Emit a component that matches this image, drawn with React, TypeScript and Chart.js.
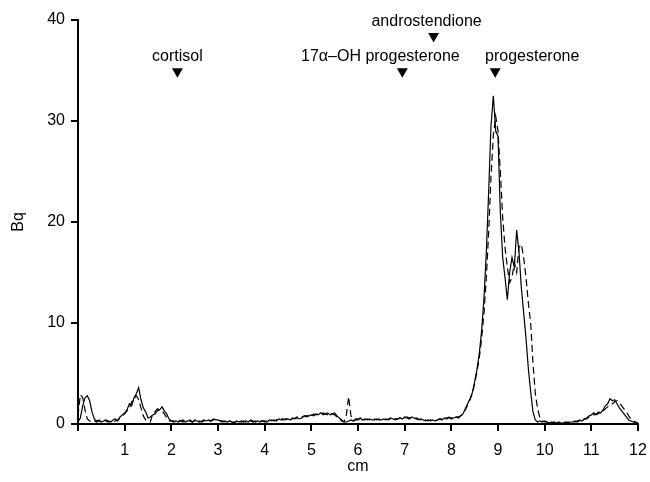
import React, { useEffect, useRef } from "react";
import { Chart, registerables } from "chart.js";

Chart.register(...registerables);

// sampling grid: 0 .. 12 cm, step 0.05 cm
const cmStart = 0;
const cmStep = 0.05;

// solid trace (Bq)
const solidBq = [
  0.2, 0.6, 1.8, 2.6, 2.8, 2.3, 1.2, 0.5, 0.3, 0.4, 0.2, 0.3, 0.4, 0.3, 0.2, 0.4, 0.5, 0.3, 0.7, 0.9,
  1.1, 1.4, 2.0, 1.8, 2.6, 3.0, 3.6, 2.4, 1.6, 1.2, 0.6, 0.7, 0.9, 1.0, 1.3, 1.4, 1.7, 1.3, 1.0, 0.5,
  0.3, 0.2, 0.3, 0.2, 0.3, 0.4, 0.2, 0.3, 0.3, 0.2, 0.4, 0.3, 0.2, 0.3, 0.4, 0.3, 0.4, 0.3, 0.5, 0.4,
  0.4, 0.3, 0.2, 0.3, 0.2, 0.3, 0.2, 0.1, 0.3, 0.2, 0.3, 0.2, 0.3, 0.2, 0.4, 0.3, 0.2, 0.3, 0.2, 0.3,
  0.3, 0.2, 0.4, 0.3, 0.4, 0.3, 0.5, 0.4, 0.4, 0.5, 0.5, 0.4, 0.6, 0.5, 0.6, 0.5, 0.6, 0.8, 0.7, 0.8,
  0.9, 0.8, 1.0, 0.9, 1.1, 0.9, 1.0, 1.1, 0.9, 1.0, 1.1, 0.8, 0.6, 0.4, 0.2, 0.2, 0.3, 0.4, 0.3, 0.5,
  0.5, 0.6, 0.4, 0.5, 0.4, 0.5, 0.4, 0.4, 0.5, 0.4, 0.4, 0.5, 0.4, 0.5, 0.6, 0.5, 0.4, 0.5, 0.6, 0.5,
  0.7, 0.6, 0.5, 0.7, 0.6, 0.5, 0.4, 0.5, 0.4, 0.3, 0.4, 0.3, 0.4, 0.3, 0.4, 0.5, 0.4, 0.6, 0.5, 0.7,
  0.5, 0.6, 0.7, 0.6, 0.8, 1.0, 1.5, 2.0, 2.5, 3.1, 4.2, 5.4, 7.0, 9.3, 12.5, 17.0, 23.0, 29.5, 32.5, 29.0,
  28.5, 21.0, 16.5, 14.5, 12.3, 15.0, 16.5, 15.5, 19.2, 17.0, 13.5, 11.0, 8.5, 5.5, 3.2, 1.2, 0.4, 0.2, 0.3, 0.2,
  0.3, 0.2, 0.1, 0.2, 0.1, 0.1, 0.2, 0.1, 0.1, 0.2, 0.1, 0.2, 0.2, 0.3, 0.2, 0.4, 0.3, 0.5, 0.6, 0.8,
  0.9, 1.1, 0.9, 1.2, 1.1, 1.4, 1.8, 2.0, 2.5, 2.3, 2.4, 2.0, 1.6, 1.3, 1.0, 0.7, 0.4, 0.3, 0.2, 0.1,
  0.0,
];

// dashed trace (Bq)
const dashedBq = [
  0.8, 2.9, 2.6, 1.4, 0.5, 0.3, 0.2, 0.3, 0.2, 0.3, 0.2, 0.4, 0.3, 0.2, 0.3, 0.2, 0.3, 0.4, 0.6, 0.8,
  1.0, 1.3, 1.5, 2.2, 2.5, 2.8, 2.4, 1.6, 0.8, 0.4, 0.3, 0.2, 1.0, 1.2, 1.5, 1.4, 1.3, 1.0, 0.6, 0.3,
  0.3, 0.3, 0.2, 0.4, 0.3, 0.2, 0.3, 0.3, 0.4, 0.2, 0.3, 0.4, 0.3, 0.2, 0.3, 0.4, 0.3, 0.3, 0.4, 0.5,
  0.4, 0.3, 0.3, 0.2, 0.2, 0.3, 0.2, 0.2, 0.3, 0.3, 0.2, 0.3, 0.2, 0.3, 0.3, 0.2, 0.3, 0.2, 0.3, 0.3,
  0.2, 0.3, 0.3, 0.4, 0.3, 0.4, 0.4, 0.5, 0.5, 0.4, 0.5, 0.6, 0.5, 0.6, 0.7, 0.6, 0.7, 0.8, 0.8, 0.9,
  0.8, 1.0, 0.9, 1.0, 1.0, 1.1, 1.0, 0.9, 1.1, 1.0, 0.9, 0.7, 0.5, 0.3, 0.2, 0.9, 2.7, 0.8, 0.3, 0.4,
  0.4, 0.5, 0.5, 0.4, 0.5, 0.4, 0.5, 0.5, 0.4, 0.5, 0.4, 0.4, 0.5, 0.4, 0.5, 0.6, 0.5, 0.5, 0.6, 0.5,
  0.6, 0.7, 0.6, 0.6, 0.5, 0.6, 0.5, 0.4, 0.5, 0.4, 0.3, 0.4, 0.4, 0.3, 0.4, 0.5, 0.5, 0.5, 0.6, 0.6,
  0.6, 0.6, 0.7, 0.7, 0.8, 1.0, 1.4, 1.9, 2.4, 3.0, 4.0, 5.2, 6.6, 8.5, 11.0, 14.5, 19.0, 24.5, 28.5, 30.5,
  29.0, 25.0, 20.5, 17.5, 15.5, 14.0, 14.5, 16.0, 15.0, 17.5, 17.8, 16.5, 14.5, 12.0, 10.0, 6.0, 3.0, 1.5, 0.6, 0.3,
  0.2, 0.2, 0.1, 0.1, 0.2, 0.1, 0.1, 0.2, 0.1, 0.1, 0.2, 0.1, 0.2, 0.2, 0.3, 0.3, 0.4, 0.5, 0.5, 0.7,
  0.8, 0.9, 1.0, 1.0, 1.2, 1.3, 1.5, 1.7, 1.9, 2.0, 2.2, 2.3, 2.1, 1.8, 1.5, 1.2, 0.8, 0.5, 0.3, 0.2,
  0.1,
];

// reference markers (standards)
const markerLabels = ["cortisol", "17\u03b1\u2013OH progesterone", "androstendione", "progesterone"];
const markerCm = [2.13, 6.95, 7.62, 8.94];
const markerBq = [34.9, 34.9, 38.4, 34.9];

// axis ticks
const xTicks = [0, 1, 2, 3, 4, 5, 6, 7, 8, 9, 10, 11, 12];
const yTicks = [0, 10, 20, 30, 40];

const FONT = "'Liberation Sans', Arial, Helvetica, sans-serif";
const labelDx = [0, -22, -7, 37];

const markerTextPlugin = {
  id: "markerText",
  afterDatasetsDraw(chart: any) {
    const { ctx, scales } = chart;
    ctx.save();
    ctx.font = `16px ${FONT}`;
    ctx.fillStyle = "#000";
    ctx.textAlign = "center";
    ctx.textBaseline = "middle";
    markerLabels.forEach((lab, i) => {
      const px = scales.x.getPixelForValue(markerCm[i]) + labelDx[i];
      const py = scales.y.getPixelForValue(markerBq[i]) - 15;
      ctx.fillText(lab, px, py);
    });
    ctx.restore();
  },
};

export default function App() {
  const ref = useRef<HTMLCanvasElement>(null);
  useEffect(() => {
    if (!ref.current) return;
    const toPts = (arr: number[]) => arr.map((v, i) => ({ x: +(cmStart + i * cmStep).toFixed(2), y: v }));
    Chart.defaults.font.family = FONT;
    const chart = new Chart(ref.current, {
      type: "line",
      data: {
        datasets: [
          {
            data: toPts(solidBq),
            borderColor: "#000",
            borderWidth: 1.2,
            pointRadius: 0,
            tension: 0,
            fill: false,
          },
          {
            data: toPts(dashedBq),
            borderColor: "#000",
            borderWidth: 1.2,
            borderDash: [7, 4],
            pointRadius: 0,
            tension: 0,
            fill: false,
          },
          {
            data: markerCm.map((x, i) => ({ x, y: markerBq[i] })),
            showLine: false,
            pointStyle: "triangle",
            rotation: 180,
            pointRadius: 6.3,
            pointBackgroundColor: "#000",
            pointBorderColor: "#000",
            pointBorderWidth: 0,
          },
        ],
      },
      options: {
        responsive: false,
        animation: false,
        events: [],
        layout: { padding: { top: 20, right: 12, left: 0, bottom: 0 } },
        plugins: { legend: { display: false }, tooltip: { enabled: false } },
        scales: {
          x: {
            type: "linear",
            min: 0,
            max: 12,
            afterBuildTicks: (s: any) => {
              s.ticks = xTicks.map((v) => ({ value: v }));
            },
            afterFit: (s: any) => {
              s.height = 58;
              s.paddingLeft = 0;
              s.paddingRight = 0;
            },
            ticks: {
              color: "#000",
              font: { size: 16 },
              padding: 10,
              maxRotation: 0,
              autoSkip: false,
              callback: (v: any) => (v === 0 ? "" : String(v)),
            },
            grid: {
              display: true,
              drawOnChartArea: false,
              drawTicks: true,
              tickLength: 7,
              color: "#000",
              lineWidth: 2,
            },
            border: { display: true, color: "#000", width: 2 },
            title: {
              display: true,
              text: "cm",
              color: "#000",
              font: { size: 16 },
              padding: { top: 0, bottom: 6 },
            },
          },
          y: {
            type: "linear",
            min: 0,
            max: 40,
            afterBuildTicks: (s: any) => {
              s.ticks = yTicks.map((v) => ({ value: v }));
            },
            afterFit: (s: any) => {
              s.width = 78;
              s.paddingTop = 0;
              s.paddingBottom = 0;
            },
            ticks: {
              color: "#000",
              font: { size: 16 },
              padding: 6,
            },
            grid: {
              display: true,
              drawOnChartArea: false,
              drawTicks: true,
              tickLength: 7,
              color: "#000",
              lineWidth: 2,
            },
            border: { display: true, color: "#000", width: 2 },
            title: {
              display: true,
              text: "Bq",
              color: "#000",
              font: { size: 16 },
              padding: { top: 9, bottom: 0 },
            },
          },
        },
      },
      plugins: [markerTextPlugin],
    } as any);
    return () => chart.destroy();
  }, []);
  return (
    <div style={{ position: "absolute", left: 0, top: 0, width: 650, height: 482, background: "#fff" }}>
      <canvas ref={ref} width={650} height={482} />
    </div>
  );
}
